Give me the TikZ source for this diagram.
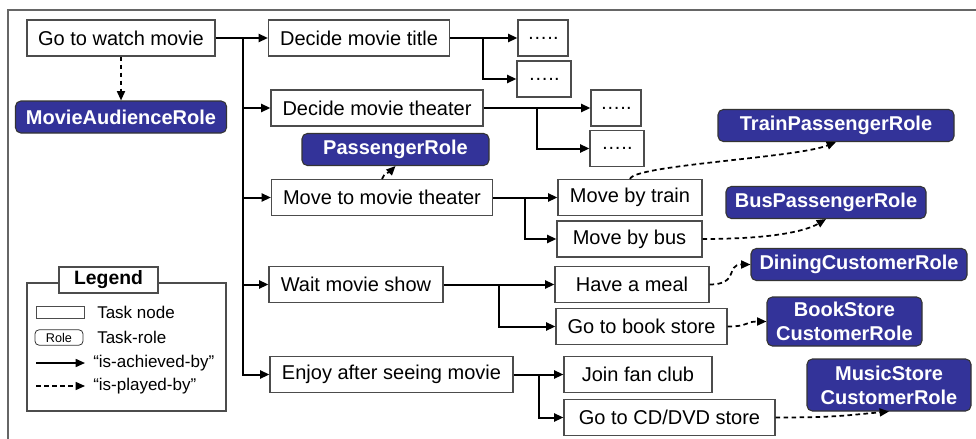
\documentclass[tikz,border=0pt]{standalone}
\usepackage{fontspec}
\setmainfont{Liberation Sans}
\usepackage{xcolor}
\usetikzlibrary{arrows.meta,positioning,calc}
\definecolor{roleblue}{RGB}{51,51,153}

\begin{document}
\begin{tikzpicture}[x=0.75pt,y=-0.75pt,
    task/.style={draw=black!70,fill=white,line width=0.8pt,inner sep=2pt,minimum height=27pt,font=\fontsize{15}{18}\selectfont},
    role/.style={draw=black!80,fill=roleblue,text=white,rounded corners=4pt,line width=0.8pt,inner sep=2pt,minimum height=24pt,align=center,font=\fontsize{15}{18}\selectfont\bfseries},
    achieved/.style={line width=1.5pt,-{Triangle[length=7pt,width=6pt]}},
    played/.style={line width=1.3pt,dash pattern=on 3.5pt off 2.5pt,-{Triangle[length=7pt,width=6pt]}},
    legtext/.style={anchor=west,inner sep=0pt,font=\fontsize{12.75}{15}\selectfont}]
\useasboundingbox (0,0) rectangle (976,439);

% frame (top and left edges only)
\coordinate (fbl) at (8,439);
\coordinate (ftl) at (8,10);
\coordinate (ftr) at (976,10);
\draw[black!60,line width=1.2pt] (fbl) -- (ftl) -- (ftr);

% root task and its role
\node[task,minimum width=141pt] (go) at (121,38) {Go to watch movie};
\node[role,minimum width=158.25pt] (audience) at (121,117) {MovieAudienceRole};

% sub tasks
\node[task,minimum width=135.75pt] (title) at (359,38) {Decide movie title};
\node[task,minimum width=159pt] (theater) at (377,108) {Decide movie theater};
\node[task,minimum width=165.75pt] (move) at (382,197.5) {Move to movie theater};
\node[task,minimum width=130.5pt] (wait) at (356,284.5) {Wait movie show};
\node[task,minimum width=182.25pt] (enjoy) at (391.5,374.5) {Enjoy after seeing movie};

% leaves
\node[task,minimum width=37.5pt] (dotA) at (543,38) {…..};
\node[task,minimum width=40.5pt] (dotB) at (544,79) {…..};
\node[task,minimum width=37.5pt] (dotC) at (616,108) {…..};
\node[task,minimum width=40.5pt] (dotD) at (617,148.5) {…..};
\node[task,minimum width=108pt] (train) at (630,197.5) {Move by train};
\node[task,minimum width=108.75pt] (bus) at (629.5,239) {Move by bus};
\node[task,minimum width=115.5pt] (meal) at (632,284.5) {Have a meal};
\node[task,minimum width=128.25pt] (book) at (641.5,326.5) {Go to book store};
\node[task,minimum width=111pt] (fan) at (638,374.5) {Join fan club};
\node[task,minimum width=158.25pt] (cd) at (669.5,417.5) {Go to CD/DVD store};

% roles
\node[role,minimum width=140.25pt] (passenger) at (395.5,149.5) {PassengerRole};
\node[role,minimum width=177pt] (trainrole) at (836,125.5) {TrainPassengerRole};
\node[role,minimum width=150pt] (busrole) at (826,202.5) {BusPassengerRole};
\node[role,minimum width=162pt] (dining) at (859,264.5) {DiningCustomerRole};
\node[role,minimum width=116.25pt,minimum height=36.75pt] (bookrole) at (844.5,321.5) {BookStore\\CustomerRole};
\node[role,minimum width=123pt,minimum height=39pt] (musicrole) at (889,385) {MusicStore\\CustomerRole};

% junctions
\coordinate (j0) at (243,38);
\coordinate (j1) at (483,38);
\coordinate (j2) at (537,108);
\coordinate (j3) at (525,197.5);
\coordinate (j4) at (499,284.5);
\coordinate (j5) at (539,374.5);

% is-achieved-by
\draw[achieved] (go.east) -- (title.west);
\draw[achieved] (j0) |- (theater.west);
\draw[achieved] (j0) |- (move.west);
\draw[achieved] (j0) |- (wait.west);
\draw[achieved] (j0) |- (enjoy.west);
\draw[achieved] (title.east) -- (dotA.west);
\draw[achieved] (j1) |- (dotB.west);
\draw[achieved] (theater.east) -- (dotC.west);
\draw[achieved] (j2) |- (dotD.west);
\draw[achieved] (move.east) -- (train.west);
\draw[achieved] (j3) |- (bus.west);
\draw[achieved] (wait.east) -- (meal.west);
\draw[achieved] (j4) |- (book.west);
\draw[achieved] (enjoy.east) -- (fan.west);
\draw[achieved] (j5) |- (cd.west);

% is-played-by
\draw[played] (go.south) -- (audience.north);
\draw[played] (move.north) .. controls +(2,-6) and +(-6,6) .. (passenger.south);
\draw[played] (train.north) .. controls +(4,-14) and +(-40,16) .. (trainrole.south);
\draw[played] (bus.east) .. controls +(70,0) and +(-20,12) .. (busrole.south);
\draw[played] (meal.east) .. controls +(30,0) and +(-25,0) .. (dining.west);
\draw[played] (book.east) .. controls +(22,0) and +(-22,0) .. (bookrole.west);
\draw[played] (cd.east) .. controls +(60,0) and +(-45,4) .. (musicrole.south);

% legend
\node[draw=black!70,line width=0.8pt,minimum width=149.25pt,minimum height=96pt,inner sep=0pt] (legend) at (126.5,347) {};
\node[draw=black!70,fill=white,line width=0.8pt,minimum width=74.25pt,minimum height=19.5pt,inner sep=0pt,font=\fontsize{14.5}{17}\selectfont\bfseries] (legtitle) at (108.5,280) {Legend};
\node[draw=black!70,line width=0.6pt,minimum width=36pt,minimum height=9pt,inner sep=0pt] (ltask) at (60,312) {};
\node[legtext] (ltasktxt) at (97,312) {Task node};
\node[draw=black!80,line width=0.6pt,rounded corners=3pt,minimum width=36pt,minimum height=11.5pt,inner sep=0pt,font=\fontsize{9.5}{11}\selectfont] (lrole) at (59,337.5) {Role};
\node[legtext] (lroletxt) at (97,337.5) {Task-role};
\coordinate (lsolidA) at (36,363);
\coordinate (lsolidB) at (85,363);
\draw[achieved,line width=1.2pt] (lsolidA) -- (lsolidB);
\node[legtext] (lsolidtxt) at (93,363) {“is-achieved-by”};
\coordinate (ldashA) at (36,386);
\coordinate (ldashB) at (85,386);
\draw[played,line width=1.1pt] (ldashA) -- (ldashB);
\node[legtext] (ldashtxt) at (93,386) {“is-played-by”};
\end{tikzpicture}
\end{document}
